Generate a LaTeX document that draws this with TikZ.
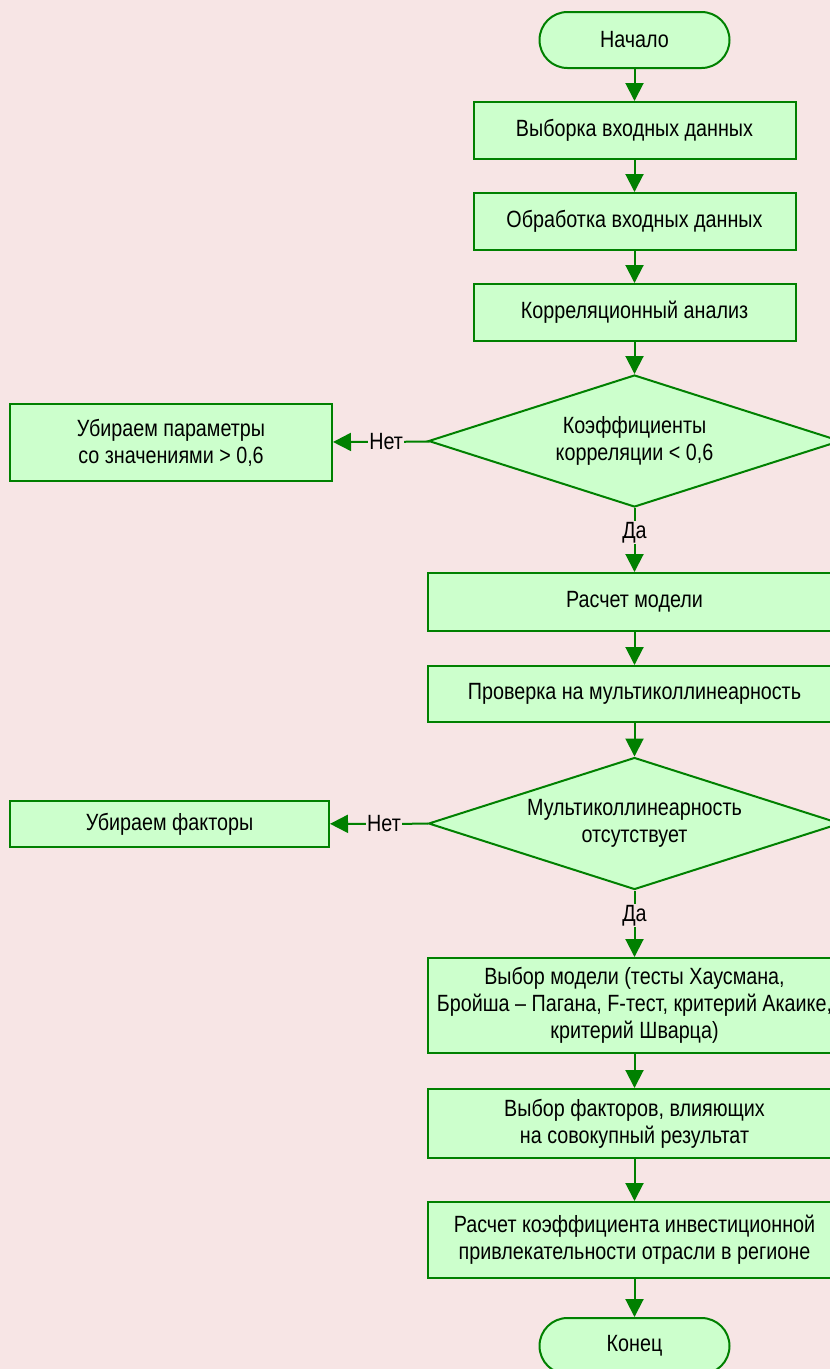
\documentclass[tikz,border=0pt]{standalone}
\usepackage{fontspec}
\setmainfont[FakeStretch=0.84]{Liberation Sans}
\usetikzlibrary{shapes.geometric,arrows.meta}
\definecolor{bgpink}{HTML}{F7E5E5}
\definecolor{boxfill}{HTML}{CCFFCC}
\definecolor{boxline}{HTML}{008000}

\begin{document}
\begin{tikzpicture}[x=1pt, y=-1pt, line width=2pt, font=\fontsize{23.5}{27}\selectfont,
  every edge/.style={draw=boxline, -{Triangle[width=18pt,length=18pt]}},
  term/.style={draw=boxline, fill=boxfill, rounded corners=28pt, minimum width=190pt, minimum height=56pt},
  proc/.style={draw=boxline, fill=boxfill, align=center, inner sep=0pt},
  test/.style={draw=boxline, fill=boxfill, diamond, aspect=3.1, align=center, inner sep=0pt, minimum width=412pt, minimum height=132pt},
  lbl/.style={fill=bgpink, inner sep=1pt}]

  \fill [bgpink] (0,0) rectangle (830,1369);
  \useasboundingbox (0,0) rectangle (830,1369);
  \clip (0,0) rectangle (830,1369);

  \node [term] (start) at (634.5, 40) {Начало};
  \node [proc, minimum width=322pt, minimum height=57pt] (sample) at (634.5, 130.5) {Выборка входных данных};
  \node [proc, minimum width=322pt, minimum height=57pt] (prep) at (634.5, 221.5) {Обработка входных данных};
  \node [proc, minimum width=322pt, minimum height=57pt] (corr) at (634.5, 312.5) {Корреляционный анализ};
  \node [test] (chk1) at (634.5, 441) {Коэффициенты\\корреляции < 0,6};
  \node [proc, minimum width=322pt, minimum height=77pt] (drop1) at (171, 442.5) {Убираем параметры\\со значениями > 0,6};
  \node [proc, minimum width=414pt, minimum height=58pt] (calc) at (634.5, 602) {Расчет модели};
  \node [proc, minimum width=414pt, minimum height=56pt] (multi) at (634.5, 694) {Проверка на мультиколлинеарность};
  \node [test] (chk2) at (634.5, 823.5) {Мультиколлинеарность\\отсутствует};
  \node [proc, minimum width=319pt, minimum height=46pt] (drop2) at (169.5, 824) {Убираем факторы};
  \node [proc, minimum width=414pt, minimum height=95pt] (choose) at (634.5, 1005.5) {Выбор модели (тесты Хаусмана,\\Бройша – Пагана, F-тест, критерий Акаике,\\критерий Шварца)};
  \node [proc, minimum width=414pt, minimum height=69pt] (factors) at (634.5, 1123.5) {Выбор факторов, влияющих\\на совокупный результат};
  \node [proc, minimum width=414pt, minimum height=76pt] (coef) at (634.5, 1240) {Расчет коэффициента инвестиционной\\привлекательности отрасли в регионе};
  \node [term] (stop) at (634.5, 1346) {Конец};

  \path (start) edge (sample);
  \path (sample) edge (prep);
  \path (prep) edge (corr);
  \path (corr) edge (chk1);
  \path (chk1) edge node[lbl, pos=0.45] {Нет} (drop1);
  \path (chk1) edge node[lbl, pos=0.38] {Да} (calc);
  \path (calc) edge (multi);
  \path (multi) edge (chk2);
  \path (chk2) edge node[lbl, pos=0.45] {Нет} (drop2);
  \path (chk2) edge node[lbl, pos=0.38] {Да} (choose);
  \path (choose) edge (factors);
  \path (factors) edge (coef);
  \path (coef) edge (stop);
\end{tikzpicture}
\end{document}
